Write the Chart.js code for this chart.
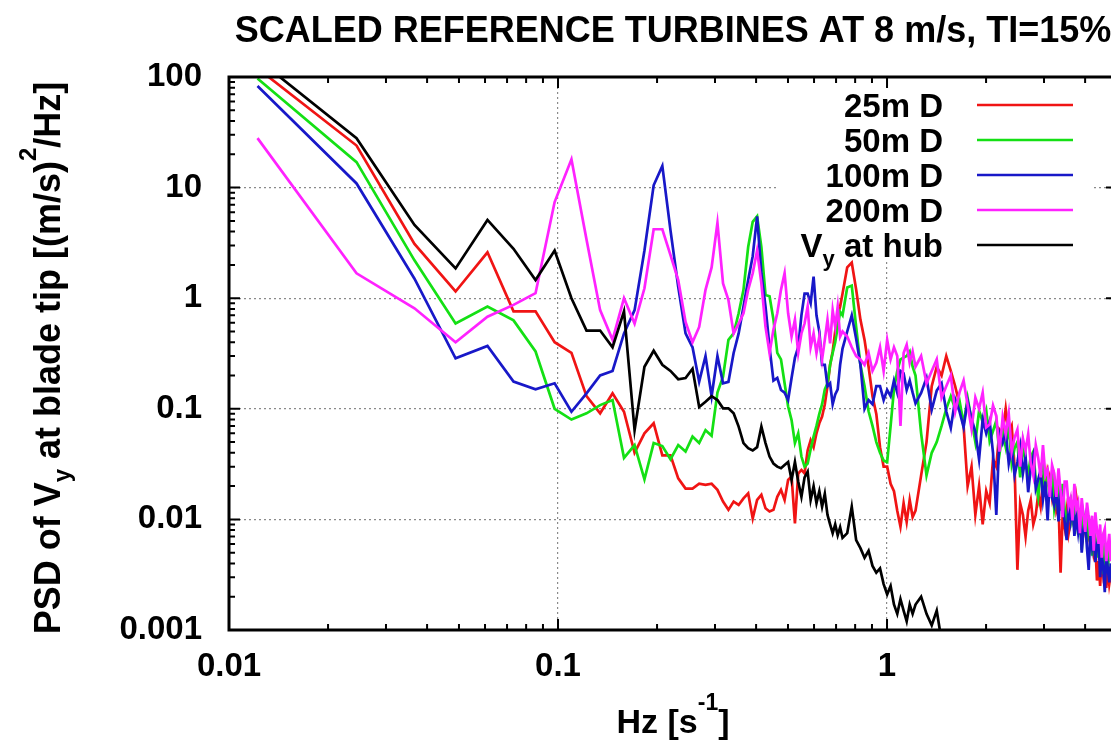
<!DOCTYPE html>
<html>
<head>
<meta charset="utf-8">
<script src="https://cdn.jsdelivr.net/npm/chart.js@4.4.1/dist/chart.umd.min.js"></script>
<style>
  html, body { margin: 0; padding: 0; background: #fff; overflow: hidden; }
</style>
</head>
<body>
<canvas id="psd" width="1130" height="740"></canvas>
<script>
// FFT bin numbers and bin width (Hz)
const DF = 0.012207;
const bins = [
  1, 2, 3, 4, 5, 6, 7, 8, 9, 10, 11, 12, 13, 14, 15, 16, 17, 18, 19, 20,
  21, 22, 23, 24, 25, 26, 27, 28, 29, 30, 31, 32, 33, 34, 35, 36, 37, 38, 39, 40,
  41, 42, 43, 44, 45, 46, 47, 48, 49, 50, 51, 52, 53, 54, 55, 56, 57, 58, 59, 60,
  62, 64, 66, 68, 70, 72, 74, 76, 78, 80, 82, 84, 86, 88, 90, 92, 94, 96, 98, 100,
  104, 108, 112, 116, 120, 124, 128, 132, 136, 140, 144, 148, 152, 156, 160, 164, 168, 172, 176, 180,
  184, 188, 192, 196, 200, 204, 208, 212, 216, 220, 224, 228, 232, 236, 240, 244, 248, 252, 256, 260,
  264, 268, 272, 276, 280, 284, 288, 292, 296, 300, 304, 308, 312, 316, 320, 324, 328, 332, 336, 340,
  344, 348, 352, 356, 360, 364, 368, 372, 376, 380, 384, 388, 392
];

const psd25 = [
  120, 24, 3.1, 1.15, 2.6, 0.76, 0.76, 0.40, 0.32, 0.13,
  0.091, 0.138, 0.094, 0.040, 0.060, 0.074, 0.038, 0.038, 0.0235, 0.019,
  0.019, 0.021, 0.0205, 0.021, 0.0185, 0.0145, 0.0122, 0.0145, 0.0135, 0.0155,
  0.0172, 0.0102, 0.015, 0.0167, 0.0126, 0.0118, 0.0122, 0.016, 0.0185, 0.015,
  0.0227, 0.0244, 0.0092, 0.026, 0.028, 0.026, 0.042, 0.052, 0.045, 0.060,
  0.074, 0.085, 0.11, 0.16, 0.25, 0.33, 0.5, 0.7, 0.84, 1.1,
  1.9, 2.1, 1.2, 0.64, 0.42, 0.24, 0.13, 0.09, 0.045, 0.030,
  0.030, 0.021, 0.018, 0.012, 0.0086, 0.014, 0.0095, 0.015, 0.0105, 0.012,
  0.025, 0.05, 0.16, 0.24, 0.2, 0.3, 0.22, 0.16, 0.11, 0.07,
  0.02, 0.03, 0.011, 0.02, 0.009, 0.018, 0.014, 0.035, 0.03, 0.065,
  0.06, 0.1, 0.06, 0.07, 0.03, 0.0035, 0.014, 0.011, 0.007, 0.012,
  0.015, 0.009, 0.011, 0.017, 0.013, 0.022, 0.018, 0.028, 0.024, 0.016,
  0.022, 0.012, 0.014, 0.0033, 0.011, 0.0085, 0.012, 0.0075, 0.0095, 0.013,
  0.011, 0.016, 0.012, 0.009, 0.013, 0.0075, 0.0095, 0.0065, 0.0085, 0.0055,
  0.0075, 0.005, 0.006, 0.0028, 0.0042, 0.0025, 0.0046, 0.0032, 0.0038, 0.0024,
  0.0036, 0.0026, 0.0032
];

const psd50 = [
  97, 17, 2.2, 0.59, 0.84, 0.63, 0.33, 0.10, 0.080, 0.091,
  0.108, 0.12, 0.036, 0.047, 0.023, 0.049, 0.046, 0.035, 0.047, 0.041,
  0.056, 0.049, 0.064, 0.057, 0.14, 0.195, 0.42, 0.48, 0.73, 1.19,
  2.9, 4.9, 5.5, 2.9, 1.07, 1.04, 0.64, 0.32, 0.28, 0.17,
  0.105, 0.079, 0.049, 0.060, 0.037, 0.030, 0.032, 0.043, 0.056, 0.07,
  0.09, 0.11, 0.15, 0.17, 0.25, 0.32, 0.4, 0.55, 0.75, 0.7,
  1.25, 1.3, 0.55, 0.25, 0.16, 0.095, 0.07, 0.05, 0.04, 0.034,
  0.033, 0.07, 0.15, 0.22, 0.28, 0.29, 0.3, 0.33, 0.24, 0.2,
  0.06, 0.025, 0.04, 0.05, 0.07, 0.1, 0.13, 0.1, 0.119, 0.073,
  0.125, 0.079, 0.05, 0.096, 0.076, 0.097, 0.051, 0.063, 0.078, 0.039,
  0.062, 0.045, 0.07, 0.032, 0.044, 0.05, 0.024, 0.049, 0.032, 0.026,
  0.037, 0.041, 0.023, 0.016, 0.027, 0.031, 0.016, 0.024, 0.02, 0.026,
  0.0124, 0.0162, 0.0204, 0.012, 0.021, 0.0122, 0.0082, 0.0145, 0.0155, 0.0096,
  0.011, 0.0146, 0.0073, 0.0105, 0.0053, 0.011, 0.0088, 0.0063, 0.0108, 0.0068,
  0.0047, 0.008, 0.0066, 0.0045, 0.0078, 0.0049, 0.006, 0.0032, 0.0063, 0.0046,
  0.0035, 0.0053, 0.0042
];

const psd100 = [
  83, 10.9, 1.5, 0.286, 0.37, 0.176, 0.15, 0.17, 0.094, 0.138,
  0.20, 0.22, 0.48, 0.78, 2.7, 10.5, 15.7, 4.1, 1.27, 0.48,
  0.36, 0.176, 0.30, 0.13, 0.30, 0.17, 0.175, 0.32, 0.48, 0.84,
  1.46, 2.4, 5.5, 1.68, 0.84, 0.36, 0.18, 0.19, 0.148, 0.14,
  0.12, 0.19, 0.29, 0.36, 0.7, 1.1, 1.1, 0.9, 1.57, 0.7,
  0.5, 0.25, 0.25, 0.16, 0.17, 0.11, 0.135, 0.15, 0.25, 0.35,
  0.5, 0.7, 0.43, 0.25, 0.1, 0.12, 0.11, 0.16, 0.16, 0.12,
  0.148, 0.13, 0.18, 0.14, 0.22, 0.21, 0.148, 0.18, 0.14, 0.112,
  0.139, 0.19, 0.098, 0.146, 0.17, 0.095, 0.067, 0.122, 0.095, 0.068,
  0.118, 0.081, 0.062, 0.035, 0.08, 0.06, 0.077, 0.04, 0.011, 0.06,
  0.049, 0.062, 0.032, 0.045, 0.025, 0.033, 0.046, 0.026, 0.037, 0.0176,
  0.029, 0.037, 0.019, 0.023, 0.028, 0.0152, 0.022, 0.0098, 0.0237, 0.0158,
  0.0134, 0.0193, 0.0096, 0.0189, 0.0133, 0.0095, 0.0065, 0.0139, 0.0098, 0.0137,
  0.0071, 0.0108, 0.0077, 0.011, 0.005, 0.008, 0.01, 0.0055, 0.0035, 0.0077,
  0.0057, 0.0079, 0.0041, 0.0059, 0.0066, 0.003, 0.0048, 0.0037, 0.0022, 0.005,
  0.0036, 0.0027, 0.004
];

const psd200 = [
  28, 1.68, 0.81, 0.40, 0.68, 0.87, 1.11, 7.4, 18, 3.4,
  0.78, 0.42, 1.0, 0.59, 1.23, 4.2, 4.2, 2.45, 1.46, 0.61,
  0.40, 0.55, 1.19, 1.9, 4.8, 1.36, 0.96, 0.48, 0.59, 0.73,
  1.19, 1.68, 2.7, 1.36, 0.55, 0.32, 0.52, 0.73, 1.19, 1.68,
  0.73, 0.45, 0.64, 0.32, 0.48, 0.59, 0.84, 0.36, 0.48, 0.32,
  0.45, 0.28, 0.42, 0.64, 0.39, 0.78, 0.55, 0.84, 0.45, 0.5,
  0.45, 0.36, 0.3, 0.28, 0.25, 0.32, 0.22, 0.26, 0.36, 0.22,
  0.42, 0.28, 0.36, 0.3, 0.07, 0.32, 0.38, 0.26, 0.33, 0.24,
  0.30, 0.17, 0.22, 0.28, 0.126, 0.16, 0.2, 0.094, 0.14, 0.18,
  0.108, 0.066, 0.126, 0.1, 0.14, 0.068, 0.072, 0.107, 0.086, 0.041,
  0.084, 0.059, 0.09, 0.041, 0.055, 0.065, 0.03, 0.054, 0.042, 0.059,
  0.032, 0.025, 0.047, 0.036, 0.024, 0.047, 0.025, 0.028, 0.016, 0.031,
  0.026, 0.016, 0.029, 0.018, 0.0105, 0.022, 0.022, 0.0132, 0.0155, 0.0098,
  0.021, 0.0126, 0.0143, 0.0075, 0.0156, 0.0109, 0.0077, 0.0142, 0.0105, 0.0071,
  0.0108, 0.0052, 0.0116, 0.008, 0.006, 0.009, 0.0045, 0.0073, 0.0082, 0.0042,
  0.0057, 0.0074, 0.0042
];

// hub signal ends below the axis near 1.5 Hz
const psdHub = [
  145, 28, 4.6, 1.86, 5.1, 2.8, 1.46, 2.7, 1.0, 0.51,
  0.51, 0.36, 0.76, 0.064, 0.24, 0.335, 0.25, 0.22, 0.185, 0.19,
  0.23, 0.104, 0.116, 0.13, 0.12, 0.101, 0.101, 0.091, 0.069, 0.049,
  0.044, 0.042, 0.045, 0.069, 0.049, 0.037, 0.032, 0.030, 0.029, 0.031,
  0.033, 0.0227, 0.033, 0.022, 0.016, 0.024, 0.027, 0.015, 0.02, 0.014,
  0.018, 0.013, 0.017, 0.011, 0.009, 0.0075, 0.009, 0.0072, 0.0085, 0.0068,
  0.0075, 0.013, 0.0065, 0.0055, 0.0045, 0.0052, 0.0038, 0.0033, 0.0036, 0.0026,
  0.0021, 0.0025, 0.0017, 0.0014, 0.0019, 0.0015, 0.0012, 0.0017, 0.0014, 0.0017,
  0.0020, 0.0014, 0.0011, 0.0015, 0.0008, 0.0005
];

const seriesNames = ['25m D', '50m D', '100m D', '200m D', 'V_{y} at hub'];
const seriesColors = ['#f01414', '#14e014', '#1818c8', '#ff22ff', '#000000'];
const seriesValues = [psd25, psd50, psd100, psd200, psdHub];

const xTickValues = [0.01, 0.1, 1];
const xTickLabels = ['0.01', '0.1', '1'];
const yTickValues = [0.001, 0.01, 0.1, 1, 10, 100];
const yTickLabels = ['0.001', '0.01', '0.1', '1', '10', '100'];

const titleText = 'SCALED REFERENCE TURBINES AT 8 m/s, TI=15%';
const xTitle = 'Hz [s^{-1}]';
const yTitle = 'PSD of V_{y} at blade tip [(m/s)^{2}/Hz]';

const FONT = '"Liberation Sans", Arial, sans-serif';

// split "a_{b}c^{d}" into normal / sub / sup pieces
function parseRich(str) {
    const parts = [];
    const re = /([_^])\{([^}]*)\}/g;
    let last = 0, m;
    while ((m = re.exec(str))) {
        if (m.index > last) parts.push({ t: str.slice(last, m.index), s: 0 });
        parts.push({ t: m[2], s: m[1] === '_' ? 1 : 2 });
        last = re.lastIndex;
    }
    if (last < str.length) parts.push({ t: str.slice(last), s: 0 });
    return parts;
}

function drawRich(ctx, str, x, y, size, align) {
    const parts = parseRich(str);
    const small = Math.round(size * 0.68);
    let total = 0;
    parts.forEach(p => {
        ctx.font = 'bold ' + (p.s ? small : size) + 'px ' + FONT;
        p.w = ctx.measureText(p.t).width;
        total += p.w;
    });
    let cx = align === 'center' ? x - total / 2 : (align === 'right' ? x - total : x);
    ctx.textAlign = 'left';
    ctx.textBaseline = 'alphabetic';
    parts.forEach(p => {
        ctx.font = 'bold ' + (p.s ? small : size) + 'px ' + FONT;
        const dy = p.s === 1 ? size * 0.27 : (p.s === 2 ? -size * 0.68 : 0);
        ctx.fillText(p.t, cx, y + dy);
        cx += p.w;
    });
}

const decor = {
    id: 'decor',
    beforeDatasetsDraw(chart) {
        // key box hides the grid behind it
        const { ctx, chartArea: a } = chart;
        ctx.save();
        ctx.fillStyle = '#fff';
        ctx.fillRect(a.left + 550, a.top + 2, 315, 183);
        ctx.restore();
    },
    afterDatasetsDraw(chart) {
        const { ctx, chartArea: a } = chart;
        ctx.save();
        ctx.fillStyle = '#000';
        for (let i = 0; i < seriesNames.length; i++) {
            const rowY = a.top + 28 + i * 35;
            drawRich(ctx, seriesNames[i], a.left + 714, rowY + 12, 33, 'right');
            ctx.strokeStyle = seriesColors[i];
            ctx.lineWidth = 2.5;
            ctx.beginPath();
            ctx.moveTo(a.left + 748, rowY);
            ctx.lineTo(a.left + 844, rowY);
            ctx.stroke();
        }
        ctx.restore();
    },
    afterDraw(chart) {
        const { ctx, chartArea: a, scales } = chart;
        const xs = scales.x, ys = scales.y;
        ctx.save();
        ctx.strokeStyle = '#000';
        ctx.lineWidth = 2;
        // inward ticks on all four sides
        ctx.beginPath();
        [0.01, 0.1, 1].forEach(d => {
            for (let m = 1; m <= 9; m++) {
                const v = d * m;
                if (v < xs.min || v > xs.max) continue;
                const px = xs.getPixelForValue(v);
                const len = m === 1 ? 11 : 6;
                ctx.moveTo(px, a.bottom); ctx.lineTo(px, a.bottom - len);
                ctx.moveTo(px, a.top); ctx.lineTo(px, a.top + len);
            }
        });
        [0.001, 0.01, 0.1, 1, 10].forEach(d => {
            for (let m = 1; m <= 9; m++) {
                const v = d * m;
                if (v < ys.min || v > ys.max) continue;
                const py = ys.getPixelForValue(v);
                const len = m === 1 ? 11 : 6;
                ctx.moveTo(a.left, py); ctx.lineTo(a.left + len, py);
                ctx.moveTo(a.right, py); ctx.lineTo(a.right - len, py);
            }
        });
        ctx.stroke();
        ctx.lineWidth = 3;
        ctx.strokeRect(a.left, a.top, a.right - a.left, a.bottom - a.top);

        ctx.fillStyle = '#000';
        const midX = (a.left + a.right) / 2;
        ctx.font = 'bold 36px ' + FONT;
        ctx.textAlign = 'center';
        ctx.textBaseline = 'alphabetic';
        ctx.fillText(titleText, midX, 42);

        drawRich(ctx, xTitle, midX, 733, 34, 'center');

        ctx.translate(60, 358);
        ctx.rotate(-Math.PI / 2);
        drawRich(ctx, yTitle, 0, 0, 36, 'center');
        ctx.restore();
    }
};

const datasets = seriesValues.map((vals, i) => ({
    label: seriesNames[i],
    data: vals.map((v, j) => ({ x: bins[j] * DF, y: v })),
    borderColor: seriesColors[i],
    borderWidth: 2.7,
    pointRadius: 0,
    tension: 0,
    fill: false,
    order: seriesValues.length - 1 - i
}));

const tickFont = { family: FONT, size: 33, weight: 'bold' };

new Chart(document.getElementById('psd'), {
    type: 'line',
    data: { datasets: datasets },
    options: {
        responsive: false,
        animation: false,
        devicePixelRatio: 1,
        layout: { padding: { left: 0, top: 77, right: 13, bottom: 0 } },
        plugins: { legend: { display: false }, tooltip: { enabled: false } },
        scales: {
            x: {
                type: 'logarithmic',
                min: 0.01,
                max: 5,
                afterBuildTicks: s => { s.ticks = xTickValues.map(v => ({ value: v })); },
                afterFit: s => { s.height = 110; },
                ticks: {
                    callback: (v, i) => xTickLabels[i],
                    font: tickFont,
                    color: '#000',
                    padding: 17,
                    autoSkip: false,
                    maxRotation: 0
                },
                grid: { color: '#8a8a8a', lineWidth: 1.2, drawTicks: false },
                border: { display: false, dash: [2, 3] }
            },
            y: {
                type: 'logarithmic',
                min: 0.001,
                max: 100,
                afterBuildTicks: s => { s.ticks = yTickValues.map(v => ({ value: v })); },
                afterFit: s => { s.width = 229; },
                ticks: {
                    callback: (v, i) => yTickLabels[i],
                    font: tickFont,
                    color: '#000',
                    padding: 27,
                    autoSkip: false
                },
                grid: { color: '#8a8a8a', lineWidth: 1.2, drawTicks: false },
                border: { display: false, dash: [2, 3] }
            }
        }
    },
    plugins: [decor]
});
</script>
</body>
</html>
